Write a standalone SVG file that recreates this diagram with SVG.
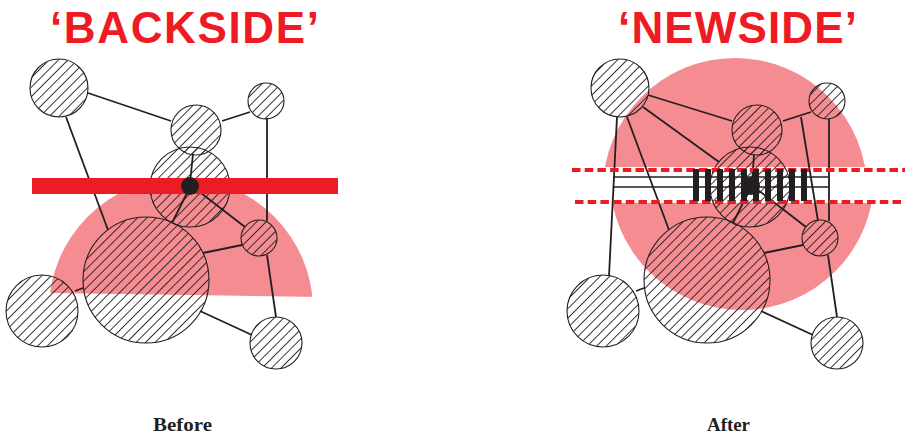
<svg xmlns="http://www.w3.org/2000/svg" width="905" height="437" viewBox="0 0 905 437">
<defs>
<pattern id="hatch" width="6.7" height="6.7" patternUnits="userSpaceOnUse" patternTransform="rotate(45)">
<line x1="3.35" y1="-1" x2="3.35" y2="8" stroke="#231f20" stroke-width="0.9"/>
</pattern>
<clipPath id="clipL"><polygon points="0,150 400,150 400,298.3 0,292.2"/></clipPath>
<clipPath id="clipRU"><rect x="560" y="0" width="345" height="167"/></clipPath>
<clipPath id="clipRL"><rect x="560" y="203" width="345" height="234"/></clipPath>
</defs>
<style>
.node circle{fill:url(#hatch);stroke:#231f20;stroke-width:1.1}
.edges line{stroke:#231f20;stroke-width:1.8;fill:none}
.title{font-family:"Liberation Sans",Arial,sans-serif;font-weight:bold;font-size:44px;fill:#ed1c24}
.cap{font-family:"Liberation Serif","Times New Roman",serif;font-weight:bold;font-size:18.5px;fill:#231f20}
.pink{fill:#f48c92}
.dash{stroke:#ed1c24;stroke-width:4;stroke-dasharray:8.5 4.2;fill:none}
.bar{fill:#231f20}
</style>
<rect width="905" height="437" fill="#ffffff"/>

<!-- titles -->
<text class="title" x="50" y="43" textLength="269" lengthAdjust="spacing">‘BACKSIDE’</text>
<text class="title" x="618" y="43" textLength="239" lengthAdjust="spacing">‘NEWSIDE’</text>
<text class="cap" x="153" y="431" textLength="59" lengthAdjust="spacingAndGlyphs">Before</text>
<text class="cap" x="707" y="431" textLength="43" lengthAdjust="spacingAndGlyphs">After</text>

<!-- LEFT: Before -->
<g id="L-zone">
<circle class="pink" cx="181" cy="310" r="132" clip-path="url(#clipL)"/>
</g>
<g id="L-A" class="node"><circle cx="59" cy="88" r="29"/></g>
<g id="L-B" class="node"><circle cx="196" cy="130" r="25"/></g>
<g id="L-C" class="node"><circle cx="266" cy="101" r="18"/></g>
<g id="L-D" class="node"><circle cx="190" cy="187" r="40"/></g>
<g id="L-E" class="node"><circle cx="146" cy="280" r="63"/></g>
<g id="L-F" class="node"><circle cx="259" cy="238" r="18"/></g>
<g id="L-G" class="node"><circle cx="42" cy="311" r="36"/></g>
<g id="L-H" class="node"><circle cx="276" cy="343" r="26"/></g>
<g id="L-edges" class="edges">
<line x1="88" y1="93" x2="171" y2="121"/>
<line x1="222" y1="121" x2="250" y2="112"/>
<line x1="66" y1="117" x2="108" y2="230"/>
<line x1="267" y1="118" x2="267" y2="221"/>
<line x1="267" y1="255" x2="276" y2="317"/>
<line x1="193" y1="154" x2="190" y2="183"/>
<line x1="190" y1="187" x2="172" y2="223"/>
<line x1="197" y1="190" x2="245" y2="227"/>
<line x1="242" y1="245" x2="203" y2="253"/>
<line x1="75" y1="291" x2="83" y2="288"/>
<line x1="200" y1="311" x2="252" y2="335"/>
</g>
<g id="L-cut">
<rect x="32" y="178" width="306" height="16" fill="#ed1c24"/>
<circle cx="190" cy="186" r="9" fill="#231f20"/>
</g>

<!-- RIGHT: After -->
<g id="R-zone">
<circle class="pink" cx="735" cy="190" r="132" clip-path="url(#clipRU)"/>
<circle class="pink" cx="742" cy="178" r="132" clip-path="url(#clipRL)"/>
</g>
<g id="R-A" class="node"><circle cx="620" cy="88" r="29"/></g>
<g id="R-B" class="node"><circle cx="757" cy="130" r="25"/></g>
<g id="R-C" class="node"><circle cx="827" cy="101" r="18"/></g>
<g id="R-D" class="node"><circle cx="750" cy="187" r="40"/></g>
<g id="R-E" class="node"><circle cx="707" cy="280" r="63"/></g>
<g id="R-F" class="node"><circle cx="820" cy="238" r="18"/></g>
<g id="R-G" class="node"><circle cx="603" cy="311" r="36"/></g>
<g id="R-H" class="node"><circle cx="837" cy="343" r="26"/></g>
<g id="R-edges" class="edges">
<line x1="648" y1="95" x2="732" y2="121"/>
<line x1="783" y1="121" x2="811" y2="112"/>
<line x1="627" y1="117" x2="669" y2="230"/>
<line x1="643" y1="107" x2="719" y2="162"/>
<line x1="617" y1="117" x2="609" y2="276"/>
<line x1="829" y1="119" x2="829" y2="221"/>
<line x1="801" y1="117" x2="818" y2="221"/>
<line x1="828" y1="255" x2="837" y2="317"/>
<line x1="754" y1="155" x2="752" y2="183"/>
<line x1="751" y1="187" x2="733" y2="223"/>
<line x1="758" y1="190" x2="806" y2="227"/>
<line x1="803" y1="245" x2="764" y2="253"/>
<line x1="636" y1="291" x2="644" y2="288"/>
<line x1="761" y1="311" x2="813" y2="335"/>
<line x1="613" y1="177" x2="829" y2="177" style="stroke-width:1.3"/>
<line x1="613" y1="187" x2="829" y2="187" style="stroke-width:1.3"/>
</g>
<g id="R-cut">
<line class="dash" x1="572" y1="170" x2="905" y2="170"/>
<line class="dash" x1="575" y1="202" x2="905" y2="202"/>
<circle cx="751" cy="186" r="9" fill="#231f20"/>
<rect class="bar" x="693" y="169" width="6" height="32"/>
<rect class="bar" x="705" y="169" width="6" height="32"/>
<rect class="bar" x="717" y="169" width="6" height="32"/>
<rect class="bar" x="729" y="169" width="6" height="32"/>
<rect class="bar" x="741" y="169" width="6" height="32"/>
<rect class="bar" x="753" y="169" width="6" height="32"/>
<rect class="bar" x="765" y="169" width="6" height="32"/>
<rect class="bar" x="777" y="169" width="6" height="32"/>
<rect class="bar" x="789" y="169" width="6" height="32"/>
<rect class="bar" x="801" y="169" width="6" height="32"/>
</g>
</svg>
